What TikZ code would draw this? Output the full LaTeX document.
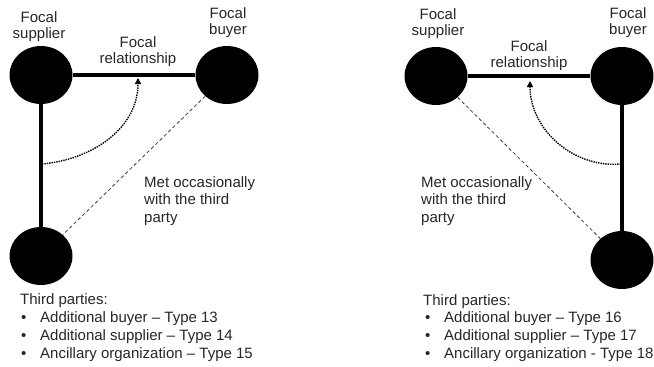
\documentclass[tikz,border=0pt]{standalone}
\usepackage{fontspec}
\setmainfont{Liberation Sans}
\usetikzlibrary{arrows.meta,shapes.geometric}
\begin{document}
\begin{tikzpicture}[x=1pt,y=-1pt,
  actor/.style={ellipse,fill=black,minimum width=63pt,minimum height=58pt,inner sep=0pt},
  tie/.style={line width=3.5pt},
  influence/.style={line width=1.4pt,densely dotted,-{Triangle[length=6pt,width=6pt]}},
  contact/.style={line width=0.8pt,dash pattern=on 3.5pt off 2.5pt,black!75},
  lbl/.style={font=\fontsize{15}{15.5}\selectfont,align=center,inner sep=0pt,text=black!85,anchor=base},
  lbll/.style={font=\fontsize{15}{17.5}\selectfont,align=left,inner sep=0pt,text=black!85,anchor=base west},
  item/.style={font=\fontsize{15}{17}\selectfont,anchor=base west,inner sep=0pt,text=black!85}]
\useasboundingbox (0,0) rectangle (654,367);

% ---------- left panel: third party tied to the focal supplier ----------
\node[actor] (sL) at (41,75) {};
\node[actor] (bL) at (227,75) {};
\node[actor] (tL) at (41,256) {};
\draw[tie] (sL) -- (bL);
\draw[tie] (sL) -- (tL);
\draw[contact] (bL) -- (tL);
\coordinate (fromL) at (42,164);
\coordinate (toL) at (138,78);
\draw[influence] (fromL) to[out=5,in=-90] (toL);

\node[lbl] (sLtxt) at (39,38) {Focal\\supplier};
\node[lbl] (bLtxt) at (228,34) {Focal\\buyer};
\node[lbl] (rLtxt) at (138,63) {Focal\\relationship};
\node[lbll] (mLtxt) at (144,222) {Met occasionally\\with the third\\party};

\node[item] (hL) at (20,304) {Third parties:};
\node[item] (b1L) at (21,322) {•};
\node[item] (i1L) at (40,322) {Additional buyer – Type 13};
\node[item] (b2L) at (21,340) {•};
\node[item] (i2L) at (40,340) {Additional supplier – Type 14};
\node[item] (b3L) at (21,358) {•};
\node[item] (i3L) at (40,358) {Ancillary organization – Type 15};

% ---------- right panel: third party tied to the focal buyer ----------
\node[actor] (sR) at (436,76) {};
\node[actor] (bR) at (622,76) {};
\node[actor] (tR) at (622,260) {};
\draw[tie] (sR) -- (bR);
\draw[tie] (bR) -- (tR);
\draw[contact] (sR) -- (tR);
\coordinate (fromR) at (621,164);
\coordinate (toR) at (530,81);
\draw[influence] (fromR) to[out=185,in=-90] (toR);

\node[lbl] (sRtxt) at (438,35) {Focal\\supplier};
\node[lbl] (bRtxt) at (628,34) {Focal\\buyer};
\node[lbl] (rRtxt) at (529,67) {Focal\\relationship};
\node[lbll] (mRtxt) at (421,222) {Met occasionally\\with the third\\party};

\node[item] (hR) at (423,305) {Third parties:};
\node[item] (b1R) at (425,322) {•};
\node[item] (i1R) at (444,322) {Additional buyer – Type 16};
\node[item] (b2R) at (425,340) {•};
\node[item] (i2R) at (444,340) {Additional supplier – Type 17};
\node[item] (b3R) at (425,358) {•};
\node[item] (i3R) at (444,358) {Ancillary organization - Type 18};
\end{tikzpicture}
\end{document}
